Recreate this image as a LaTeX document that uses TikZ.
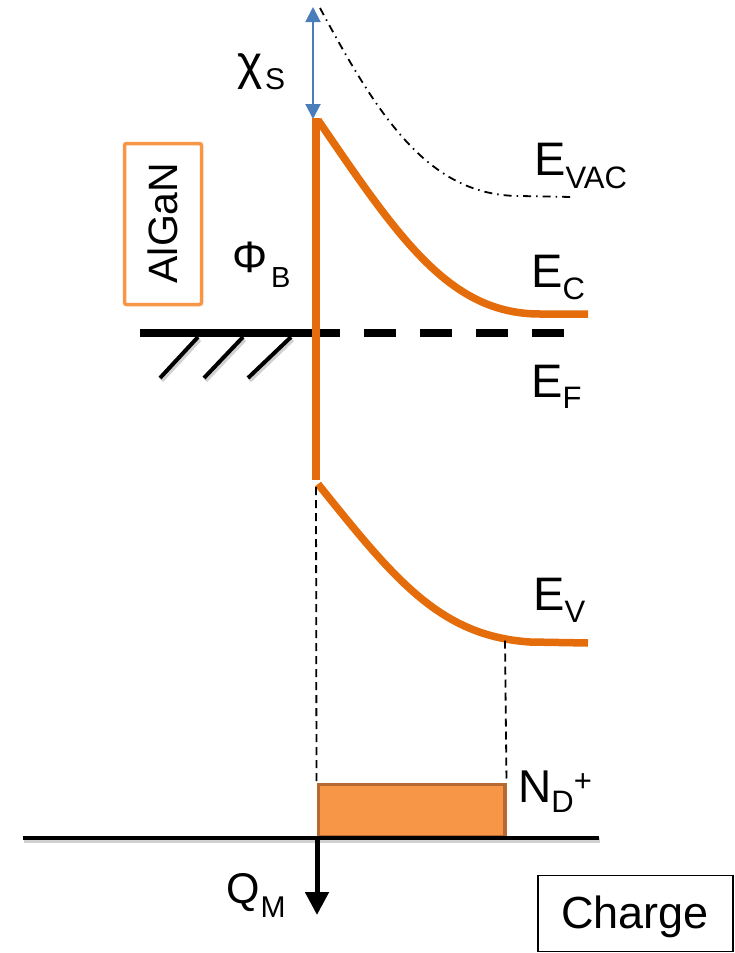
\documentclass[tikz,border=0pt]{standalone}
\usepackage{fontspec}
\setmainfont{Liberation Sans}
\usetikzlibrary{arrows.meta,calc}
\definecolor{bandorange}{HTML}{E46C0A}
\definecolor{lightorange}{HTML}{F79646}
\definecolor{boxedge}{HTML}{B66A32}
\definecolor{arrowblue}{HTML}{4A7EBB}
\newcommand{\fsz}[1]{\fontsize{#1}{#1}\selectfont}
\tikzset{
  band/.style={draw=bandorange, line width=7.5pt},
  guide/.style={draw=black, line width=1.8pt, dash pattern=on 8pt off 5pt},
  hatchline/.style={draw=black, line width=4pt},
  shadowline/.style={draw=black, opacity=0.18, line width=4.5pt},
  lbl/.style={inner sep=0pt, anchor=base west, text=black},
}
\begin{document}
\begin{tikzpicture}[x=1pt, y=-1pt]
\useasboundingbox (0,0) rectangle (734,953);

% ---- coordinates
\coordinate (chitop) at (313,7);
\coordinate (chibot) at (313,119);
\coordinate (vactop) at (320,8);
\coordinate (vacend) at (572,197);
\coordinate (ifctop) at (316,118);
\coordinate (ifcbot) at (316,480);
\coordinate (cbstart) at (318,120);
\coordinate (cbend) at (588,314);
\coordinate (vbstart) at (318,484);
\coordinate (vbflat) at (505,640.5);
\coordinate (vbend) at (588,643);
\coordinate (efL) at (140,333);
\coordinate (efM) at (340,333);
\coordinate (efD) at (364,333);
\coordinate (efR) at (564,333);
\coordinate (h1a) at (160,378); \coordinate (h1b) at (198,337);
\coordinate (h2a) at (204,378); \coordinate (h2b) at (243,337);
\coordinate (h3a) at (248,378); \coordinate (h3b) at (291,337);
\coordinate (axisL) at (23,838);
\coordinate (axisR) at (599,838);
\coordinate (qtop) at (317,838);
\coordinate (qbot) at (317,915);
\coordinate (vguideTop) at (316,487);

% ---- vacuum level (dash-dot)
\draw[black, line width=1.8pt, dash pattern=on 8pt off 5pt on 1.5pt off 5pt]
  (vactop) .. controls (380,120) and (430,196) .. (520,196) -- (vacend);

% ---- electron affinity arrow
\draw[arrowblue, line width=2pt,
  {Triangle[width=15pt,length=15pt]}-{Triangle[width=15pt,length=15pt]}]
  (chitop) -- (chibot);

% ---- AlGaN box
\node[draw=lightorange, line width=3.5pt, rounded corners=2pt,
  minimum width=77pt, minimum height=161pt, inner sep=0pt] (algabox) at (163,224) {};
\node[rotate=90, inner sep=0pt, font=\fsz{41}] (algan) at (163,223) {AlGaN};

% ---- Fermi level and metal hatch
\draw[shadowline] ($(h1a)+(1.5,2.5)$) -- ($(h1b)+(1.5,2.5)$);
\draw[shadowline] ($(h2a)+(1.5,2.5)$) -- ($(h2b)+(1.5,2.5)$);
\draw[shadowline] ($(h3a)+(1.5,2.5)$) -- ($(h3b)+(1.5,2.5)$);
\draw[hatchline] (h1a) -- (h1b);
\draw[hatchline] (h2a) -- (h2b);
\draw[hatchline] (h3a) -- (h3b);
\draw[black, line width=8pt] (efL) -- (efM);
\draw[black, line width=8pt, dash pattern=on 32pt off 24pt] (efD) -- (efR);

% ---- bands
\draw[band] (ifctop) -- (ifcbot);
\draw[band] (cbstart) .. controls (400,240) and (450,314) .. (540,314) -- (cbend);
\draw[band] (vbstart) .. controls (395,580) and (440,636) .. (530,642) -- (vbend);

% ---- donor charge box
\node[draw=boxedge, fill=lightorange, line width=3.5pt, minimum width=186.5pt,
  minimum height=52.5pt, inner sep=0pt] (ndbox) at (411.5,810.75) {};

% ---- guide lines
\draw[guide] (vguideTop) -- (ndbox.north west);
\draw[guide] (vbflat) -- (ndbox.north east);

% ---- charge axis
\draw[black, opacity=0.18, line width=4.5pt] ($(axisL)+(1,2.5)$) -- ($(axisR)+(1,2.5)$);
\draw[black, line width=4pt] (axisL) -- (axisR);
\draw[black, line width=5pt, -{Triangle[width=23pt,length=23pt]}] (qtop) -- (qbot);

% ---- labels
\node[inner sep=0pt, font=\fsz{48}] (chi) at (250.5,72) {χ};
\node[lbl, font=\fsz{30}] (chiS) at (265,89) {S};
\node[inner sep=0pt, font=\fsz{44}] (phi) at (250,257) {Φ};
\node[lbl, font=\fsz{29}] (phiB) at (271,287) {B};
\node[lbl, font=\fsz{47}] (evac) at (534,175) {E\raisebox{-13pt}{\fsz{31}VAC}};
\node[lbl, font=\fsz{47}] (ec) at (531,287) {E\raisebox{-12pt}{\fsz{31}C}};
\node[lbl, font=\fsz{47}] (ef) at (531,397) {E\raisebox{-11pt}{\fsz{31}F}};
\node[lbl, font=\fsz{47}] (ev) at (533,610) {E\raisebox{-12pt}{\fsz{31}V}};
\node[lbl, font=\fsz{46}] (nd) at (518,802) {N\raisebox{-10pt}{\fsz{31}D}\raisebox{11pt}{\fsz{31}+}};
\node[lbl, font=\fsz{43}] (qm) at (226,903) {Q\hspace{1pt}\raisebox{-14pt}{\fsz{30}M}};

% ---- charge legend
\node[draw=black, line width=1.8pt, minimum width=195pt, minimum height=76pt,
  inner sep=0pt] (chargebox) at (635.5,913.5) {};
\node[inner sep=0pt, anchor=base, font=\fsz{45}] (charge) at (635,928) {Charge};
\end{tikzpicture}
\end{document}
